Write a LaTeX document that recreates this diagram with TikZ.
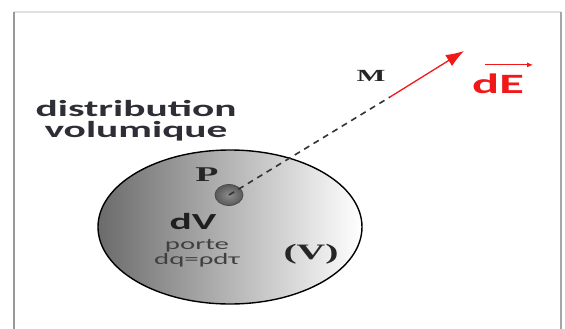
\documentclass[tikz,border=0pt]{standalone}
\usepackage{fontspec}
\usepackage{xcolor}
\usepackage{tikz}
\usetikzlibrary{arrows.meta,shapes.geometric}

\newfontfamily\labelsf[FakeStretch=1.8]{Carlito}
\newfontfamily\labelrm[FakeStretch=1.8]{Liberation Serif}
\definecolor{txtgray}{HTML}{2E2E36}
\definecolor{vecred}{HTML}{F01818}

\begin{document}
\begin{tikzpicture}[x=1pt,y=-1pt,
  every node/.style={inner sep=0pt},
  lbl/.style={font=\labelsf,text=txtgray},
  pointlbl/.style={font=\labelrm\bfseries,text=black!85}]
  \useasboundingbox (0,0) rectangle (565,329);
  % photo frame
  \draw[line width=1.2pt,black!12] (14,12) -- (561,12);
  \draw[line width=2pt,black!40] (14,12) -- (14,335);
  \draw[line width=2pt,black!35] (561,12) -- (561,335);

  % volume (V) and element dV
  \node[ellipse,draw,line width=1.4pt,minimum width=264pt,minimum height=154pt,
        left color=black!58,right color=white] (vol) at (230,227) {};
  \node[ellipse,draw=black!70,line width=0.8pt,minimum width=28pt,minimum height=21pt,
        inner color=black!45,outer color=black!65] (dv) at (229,195) {};
  \coordinate (m) at (390,97);
  \coordinate (tip) at (464,51);

  \draw[line width=1.6pt,black!80,dash pattern=on 6pt off 5pt] (dv.center) -- (m);
  \draw[-{Latex[length=18pt,width=13pt]},vecred,line width=1.3pt] (m) -- (tip);

  % labels
  \node[lbl,align=center,font=\labelsf\bfseries\fontsize{23}{21}\selectfont] (distr) at (136,121)
       {distribution\\volumique};
  \node[pointlbl,font=\labelrm\bfseries\fontsize{21}{21}\selectfont] (plbl) at (207,175) {P};
  \node[lbl,text=black!88,font=\labelsf\bfseries\fontsize{23}{23}\selectfont] (dvlbl) at (193,222) {dV};
  \node[lbl,align=center,text=black!75,font=\labelsf\fontsize{16}{13}\selectfont] (charge) at (197,253)
       {porte\\dq=ρdτ};
  \node[pointlbl,font=\labelrm\bfseries\fontsize{22}{22}\selectfont] (vlbl) at (311,254) {(V)};
  \node[pointlbl,font=\labelrm\bfseries\fontsize{17}{17}\selectfont] (mlbl) at (371,76) {M};
  \node[font=\labelsf\bfseries\fontsize{28}{28}\selectfont,text=vecred] (de) at (498,84) {dE};
  \draw[-{Latex[length=6pt,width=5pt]},vecred,line width=1pt]
       ([xshift=13pt,yshift=9pt]de.north west) -- ([xshift=9pt,yshift=9pt]de.north east);
\end{tikzpicture}
\end{document}
